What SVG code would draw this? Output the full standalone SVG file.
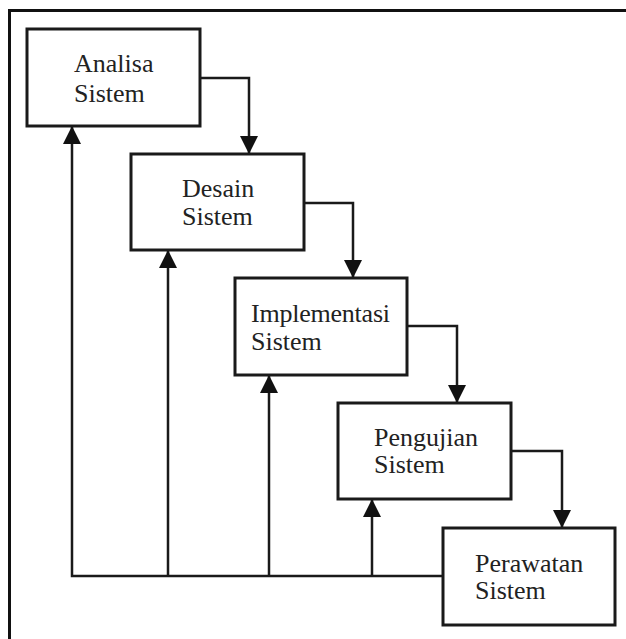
<svg xmlns="http://www.w3.org/2000/svg" width="626" height="639" viewBox="0 0 626 639">
<defs>
<style>
.box{fill:#fff;stroke:#1a1a1a;stroke-width:3}
.ln{fill:none;stroke:#1a1a1a;stroke-width:2.5}
.t{font-family:"Liberation Serif","Times New Roman",serif;font-size:26px;fill:#222}
</style>
<marker id="ah" markerWidth="18" markerHeight="18" refX="18" refY="9" orient="auto" markerUnits="userSpaceOnUse" viewBox="0 0 18 18">
<path d="M0,0 L18,9 L0,18 Z" fill="#111"/>
</marker>
</defs>
<rect width="626" height="639" fill="#fff"/>
<path d="M9.5,639 V10.5 H626" fill="none" stroke="#111" stroke-width="3"/>
<g id="connectors">
<path class="ln" d="M200,78 H249 V154" marker-end="url(#ah)"/>
<path class="ln" d="M304,203 H353 V278" marker-end="url(#ah)"/>
<path class="ln" d="M407,326 H457 V403" marker-end="url(#ah)"/>
<path class="ln" d="M511,451 H562 V528" marker-end="url(#ah)"/>
<path class="ln" d="M443,576 H72 V126" marker-end="url(#ah)"/>
<path class="ln" d="M168,576 V250" marker-end="url(#ah)"/>
<path class="ln" d="M269,576 V375" marker-end="url(#ah)"/>
<path class="ln" d="M372,576 V499" marker-end="url(#ah)"/>
</g>
<g id="analisa">
<rect class="box" x="27" y="29" width="173" height="97"/>
<text class="t" x="74" y="72">Analisa</text>
<text class="t" x="74" y="102">Sistem</text>
</g>
<g id="desain">
<rect class="box" x="131" y="154" width="173" height="96"/>
<text class="t" x="182" y="197">Desain</text>
<text class="t" x="182" y="225">Sistem</text>
</g>
<g id="implementasi">
<rect class="box" x="235" y="278" width="172" height="97"/>
<text class="t" x="251" y="322" textLength="139">Implementasi</text>
<text class="t" x="251" y="350">Sistem</text>
</g>
<g id="pengujian">
<rect class="box" x="338" y="403" width="173" height="96"/>
<text class="t" x="374" y="446">Pengujian</text>
<text class="t" x="374" y="473">Sistem</text>
</g>
<g id="perawatan">
<rect class="box" x="443" y="528" width="172" height="97"/>
<text class="t" x="475" y="572">Perawatan</text>
<text class="t" x="475" y="599">Sistem</text>
</g>
</svg>
